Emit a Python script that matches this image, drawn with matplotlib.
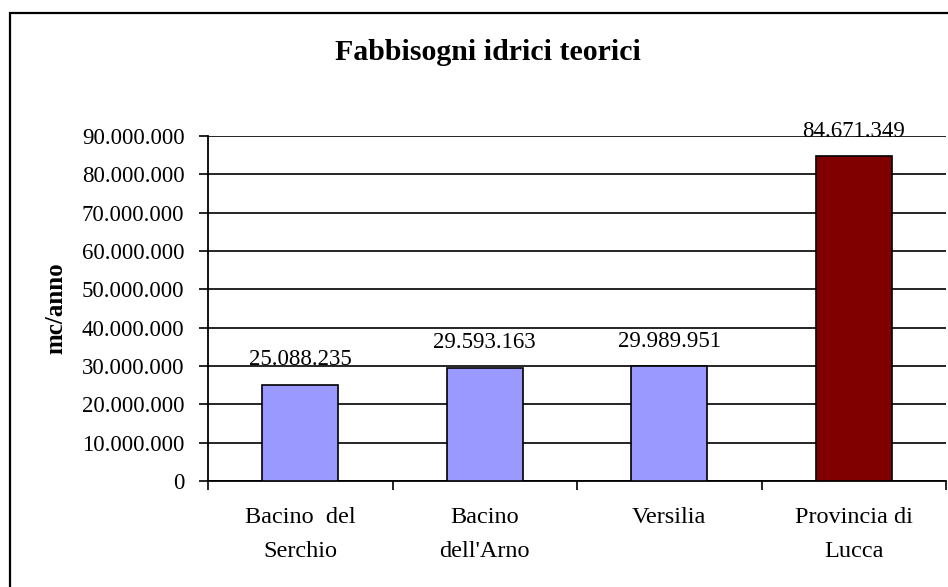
import matplotlib
matplotlib.use("Agg")
import matplotlib.pyplot as plt
from matplotlib.patches import Rectangle
from matplotlib.ticker import FuncFormatter

categories = ["Bacino  del\nSerchio", "Bacino\ndell'Arno", "Versilia", "Provincia di\nLucca"]
values = [25088235, 29593163, 29989951, 84671349]
colors = ["#9999FF", "#9999FF", "#9999FF", "#800000"]
yticks = [0, 10000000, 20000000, 30000000, 40000000, 50000000,
          60000000, 70000000, 80000000, 90000000]
title = "Fabbisogni idrici teorici"
ylabel = "mc/anno"

plt.rcParams['font.family'] = ['Liberation Serif', 'DejaVu Serif']

W, H = 948, 587
fig = plt.figure(figsize=(W / 100, H / 100), dpi=100)

# outer chart frame
fig.patches.append(Rectangle((9.5 / W, -0.1), 1.2, 1 - 12.5 / H + 0.1,
                             transform=fig.transFigure, fill=False,
                             edgecolor="black", linewidth=1.6))

ax = fig.add_axes([208 / W, (H - 481) / H, (946 - 208) / W, (481 - 136) / H])
x = list(range(len(values)))
ax.bar(x, values, width=0.41, color=colors, edgecolor="black", linewidth=1.2, zorder=3)
ax.set_xlim(-0.5, len(values) - 0.5)
ax.set_ylim(0, 90000000)
ax.set_yticks(yticks)
ax.yaxis.set_major_formatter(FuncFormatter(lambda v, p: f"{int(v):,}".replace(",", ".")))
ax.yaxis.grid(True, color="black", linewidth=1.2, zorder=0)
ax.set_axisbelow(True)

ax.set_xticks([i + 0.5 for i in range(-1, len(values))])
ax.set_xticklabels([])
ax.set_xticks(x, minor=True)
ax.set_xticklabels(categories, minor=True, fontsize=17.5, linespacing=1.8)
ax.tick_params(axis="x", which="minor", length=0, pad=19)
ax.tick_params(axis="x", which="major", length=6.5, width=1.2, direction="out")
ax.tick_params(axis="y", length=6.5, width=1.2, labelsize=16.5, pad=10.5)

for s in ["top", "right"]:
    ax.spines[s].set_visible(False)
for s in ["left", "bottom"]:
    ax.spines[s].set_linewidth(1.3)

for xi, v in zip(x, values):
    ax.annotate(f"{v:,}".replace(",", "."), (xi, v), xytext=(0, 14),
                textcoords="offset points", ha="center", va="baseline", fontsize=16.5)

fig.text(488 / W, 1 - 52 / H, title, ha="center", va="center",
         fontsize=21.5, fontweight="bold")
fig.text(56 / W, 1 - 308 / H, ylabel, ha="center", va="center",
         rotation=90, fontsize=18, fontweight="bold")

fig.savefig("out.png", dpi=100)
